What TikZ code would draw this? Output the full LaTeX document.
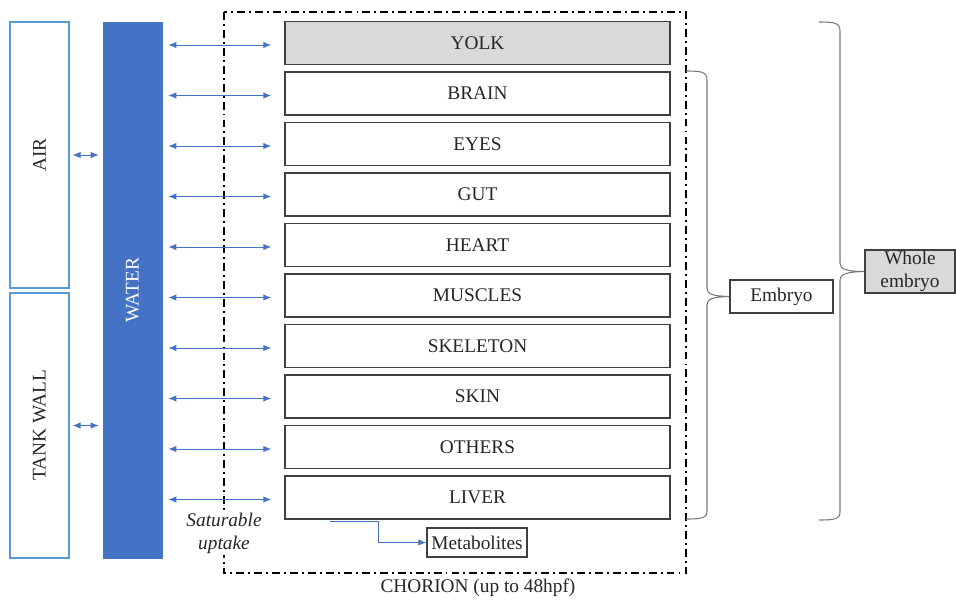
\documentclass[tikz,border=0pt]{standalone}
\usepackage{fontspec}
\setmainfont{Liberation Serif}
\usetikzlibrary{arrows.meta, positioning, calc}
\definecolor{waterblue}{RGB}{68,114,196}
\definecolor{edgeblue}{RGB}{91,155,213}
\definecolor{organedge}{RGB}{64,64,64}
\definecolor{yolkgray}{RGB}{217,217,217}
\definecolor{bracegray}{RGB}{120,120,120}
\definecolor{inkgray}{RGB}{38,38,38}

\begin{document}
\begin{tikzpicture}[x=0.02cm, y=-0.02cm,
    font=\fontsize{11}{13}\selectfont, text=inkgray,
    compart/.style={draw=edgeblue, line width=0.7pt, minimum width=1.18cm, inner sep=0pt},
    organ/.style={draw=organedge, line width=0.9pt, minimum width=7.7cm, minimum height=0.86cm, inner sep=0pt},
    tagbox/.style={draw=organedge, line width=0.9pt, inner sep=0pt, align=center},
    xchg/.style={waterblue, line width=0.5pt, {Latex[length=4.5pt,width=3.6pt]}-{Latex[length=4.5pt,width=3.6pt]}},
    flow/.style={waterblue, line width=0.5pt, -{Latex[length=4.5pt,width=3.6pt]}},
    brace/.style={draw=bracegray, line width=0.6pt},
    chorion/.style={line width=1.1pt, dash pattern=on 4.5pt off 2.3pt on 1.1pt off 2.3pt}]
    \useasboundingbox (0,0) rectangle (956,599);

    % Outer compartments
    \node[compart, minimum height=5.32cm] (air) at (39.5,155) {\rotatebox{90}{AIR}};
    \node[compart, minimum height=5.3cm] (tank) at (39.5,425.5) {\rotatebox{90}{TANK WALL}};
    \node[draw=waterblue, fill=waterblue, minimum width=1.18cm, minimum height=10.72cm, inner sep=0pt,
          text=white] (water) at (132.5,290) {\rotatebox{90}{WATER}};

    \draw[xchg] ($(air.east)+(3,0)$) -- ($(water.west |- air.east)+(-4,0)$);
    \draw[xchg] ($(tank.east)+(3,0)$) -- ($(water.west |- tank.east)+(-4,0)$);

    % Chorion
    \draw[chorion] (224,12) rectangle (686,573);
    \node (chorlab) at (478,588) {CHORION (up to 48hpf)};

    % Organs
    \node[organ, fill=yolkgray] (yolk) at (477.5,43) {YOLK};
    \foreach \name/\lab [count=\i] in {brain/BRAIN, eyes/EYES, gut/GUT, heart/HEART,
        muscles/MUSCLES, skeleton/SKELETON, skin/SKIN, others/OTHERS, liver/LIVER}
        \node[organ] (\name) at (477.5,43+50.5*\i) {\lab};

    % Uptake from water
    \foreach \name in {yolk, brain, eyes, gut, heart, muscles, skeleton, skin, others, liver}
        \draw[xchg] ($(water.east |- \name.west)+(6,2)$) -- ($(\name.west)+(-13,2)$);
    \node[align=center, fill=white, inner sep=1pt, font=\fontsize{11}{13}\selectfont\itshape] (satup) at (224,533) {Saturable\\uptake};

    % Metabolism
    \node[tagbox, minimum width=2cm, minimum height=0.58cm] (metab) at (477,542.5) {Metabolites};
    \coordinate (livout) at (330,521);
    \draw[flow] (livout) -- ++(48,0) |- (metab.west);

    % Groupings
    \node[tagbox, minimum width=2.06cm, minimum height=0.66cm] (embryo) at (781.5,296.5) {Embryo};
    \node[tagbox, fill=yolkgray, minimum width=1.8cm, minimum height=0.86cm] (whole) at (910,271.5) {Whole\\embryo};

    \draw[brace] (686,71) .. controls (702,71) and (707,72) .. (707,80) -- (707,288)
        .. controls (707,294) and (712,296) .. (embryo.west)
        .. controls (712,297) and (707,299) .. (707,305) -- (707,511)
        .. controls (707,518) and (702,519) .. (686,519);
    \draw[brace] (819,22) .. controls (835,22) and (840,23) .. (840,31) -- (840,263)
        .. controls (840,269) and (846,271.5) .. (whole.west)
        .. controls (846,272) and (840,274) .. (840,281) -- (840,512)
        .. controls (840,519) and (835,520) .. (819,520);
\end{tikzpicture}
\end{document}
